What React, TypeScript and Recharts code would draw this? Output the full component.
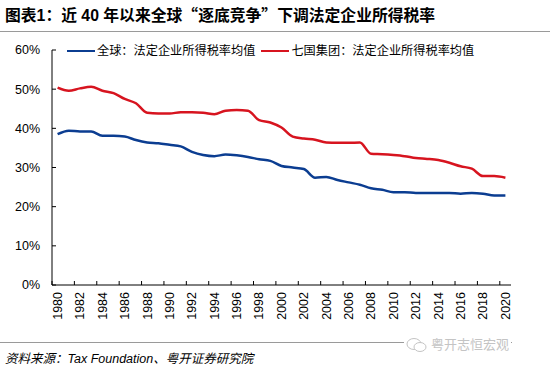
import React from 'react'
import { LineChart, Line, XAxis, YAxis } from 'recharts'

const years = [
  1980, 1981, 1982, 1983, 1984, 1985, 1986, 1987, 1988, 1989,
  1990, 1991, 1992, 1993, 1994, 1995, 1996, 1997, 1998, 1999,
  2000, 2001, 2002, 2003, 2004, 2005, 2006, 2007, 2008, 2009,
  2010, 2011, 2012, 2013, 2014, 2015, 2016, 2017, 2018, 2019, 2020,
]
// 全球：法定企业所得税率均值 (%)
const globalAvg = [
  38.5, 39.4, 39.2, 39.2, 38.1, 38.1, 37.9, 37.0, 36.4, 36.2,
  35.8, 35.4, 34.0, 33.2, 32.9, 33.3, 33.1, 32.7, 32.1, 31.7,
  30.4, 30.0, 29.6, 27.4, 27.6, 26.8, 26.2, 25.6, 24.7, 24.3,
  23.7, 23.7, 23.5, 23.5, 23.5, 23.5, 23.3, 23.5, 23.3, 22.85, 22.85,
]
// 七国集团：法定企业所得税率均值 (%)
const g7Avg = [
  50.4, 49.6, 50.2, 50.6, 49.6, 49.0, 47.5, 46.4, 44.0, 43.8,
  43.8, 44.1, 44.1, 44.0, 43.6, 44.5, 44.7, 44.5, 42.1, 41.5,
  40.2, 37.9, 37.4, 37.1, 36.4, 36.3, 36.3, 36.4, 33.5, 33.4,
  33.2, 32.9, 32.4, 32.2, 31.9, 31.2, 30.3, 29.7, 27.8, 27.8, 27.4,
]
const yTicks = [0, 10, 20, 30, 40, 50, 60]
const seriesNames = ['全球：法定企业所得税率均值', '七国集团：法定企业所得税率均值']
const colors = ['#0b3d91', '#d7141f']

const titleParts = ['图表1：近 40 年以来全球', '“', '逐底竞争', '”', '下调法定企业所得税率']
const source = '资料来源：Tax Foundation、粤开证券研究院'
const watermark = '粤开志恒宏观'

const data = years.map((yr, i) => ({ year: yr, global: globalAvg[i], g7: g7Avg[i] }))

const W = 550
const H = 373
const margin = { top: 50, right: 39, bottom: 0, left: 0 }
const yAxisW = 52
const xAxisH = 88
const plotW = W - margin.left - margin.right - yAxisW
const half = plotW / years.length / 2
const font = "'Liberation Sans', Arial, 'Noto Sans CJK SC', sans-serif"
const cjk = "'Noto Sans CJK SC', sans-serif"

const XTick = (props: any) => {
  const { x, y, payload } = props
  return (
    <g>
      <line x1={x - half} x2={x - half} y1={y} y2={y - 4} stroke="#000" />
      <text x={x} y={y + 7} transform={`rotate(-90 ${x} ${y + 7})`} textAnchor="end" dy="0.35em" fontSize={12.5} fill="#000" fontFamily={font}>
        {payload.value}
      </text>
    </g>
  )
}

const YTick = (props: any) => {
  const { x, y, payload } = props
  return (
    <g>
      <line x1={x} x2={x + 4} y1={y} y2={y} stroke="#000" />
      <text x={x - 12} y={y} textAnchor="end" dy="0.35em" fontSize={12.5} fill="#000" fontFamily={font}>
        {payload.value}%
      </text>
    </g>
  )
}

export default function App() {
  return (
    <div style={{ position: 'absolute', left: 0, top: 0, width: W, height: H, background: '#fff', fontFamily: font, overflow: 'hidden' }}>
      <div style={{ position: 'absolute', left: 5, top: 5, fontSize: 15.8, fontWeight: 'bold', color: '#000', whiteSpace: 'nowrap', lineHeight: '20px' }}>
        {titleParts.map((p, i) => (
          <span key={i} style={i === 1 || i === 3 ? { fontFamily: cjk } : undefined}>{p}</span>
        ))}
      </div>
      <div style={{ position: 'absolute', left: 0, top: 31, width: W, height: 1, background: '#9a9a9a' }} />

      <LineChart width={W} height={H} data={data} margin={margin}>
        <XAxis
          dataKey="year"
          height={xAxisH}
          interval={1}
          padding={{ left: half, right: half }}
          tickSize={0}
          tickMargin={0}
          tickLine={false}
          axisLine={{ stroke: '#000' }}
          tick={<XTick />}
        />
        <YAxis
          width={yAxisW}
          domain={[0, 60]}
          ticks={yTicks}
          tickSize={0}
          tickMargin={0}
          tickLine={false}
          axisLine={{ stroke: '#000' }}
          tick={<YTick />}
        />
        <Line dataKey="global" type="monotone" stroke={colors[0]} strokeWidth={2.5} dot={false} isAnimationActive={false} />
        <Line dataKey="g7" type="monotone" stroke={colors[1]} strokeWidth={2.5} dot={false} isAnimationActive={false} />
      </LineChart>

      {/* legend */}
      <div style={{ position: 'absolute', left: 67, top: 42, display: 'flex', alignItems: 'center', fontSize: 12.2, color: '#000', whiteSpace: 'nowrap', lineHeight: '18px' }}>
        {seriesNames.map((n, i) => (
          <div key={n} style={{ display: 'flex', alignItems: 'center', marginRight: 6 }}>
            <span style={{ display: 'inline-block', width: 28, height: 2.5, background: colors[i], marginRight: 2 }} />
            <span>{n}</span>
          </div>
        ))}
      </div>

      <div style={{ position: 'absolute', left: 0, top: 342, width: 512, height: 1, background: '#9a9a9a' }} />
      <div style={{ position: 'absolute', left: 5, top: 350, fontSize: 12.5, fontStyle: 'italic', color: '#000', whiteSpace: 'nowrap', lineHeight: '18px' }}>
        {source}
      </div>
      <div style={{ position: 'absolute', left: 404, top: 336, display: 'flex', alignItems: 'center', background: '#fff', padding: '0 2px', color: '#c4c4c4', fontSize: 13, lineHeight: '18px', whiteSpace: 'nowrap' }}>
        <svg width={22} height={16} style={{ marginRight: 3 }}>
          <ellipse cx={8} cy={7} rx={7} ry={5.5} fill="none" stroke="#c4c4c4" />
          <ellipse cx={14} cy={10} rx={6} ry={4.5} fill="#fff" stroke="#c4c4c4" />
        </svg>
        <span>{watermark}</span>
      </div>
    </div>
  )
}
